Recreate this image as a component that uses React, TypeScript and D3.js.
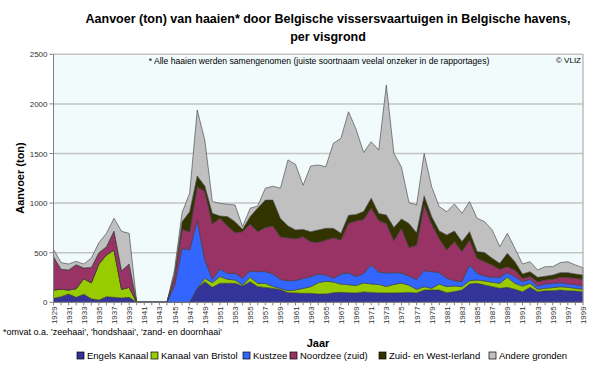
import * as d3 from 'd3';

const years = d3.range(1929, 2000);

const seriesNames = [
  'Engels Kanaal',
  'Kanaal van Bristol',
  'Kustzee',
  'Noordzee (zuid)',
  'Zuid- en West-Ierland',
  'Andere gronden',
];
const seriesColors = ['#333399', '#99cc00', '#3366ff', '#993366', '#333300', '#c0c0c0'];

// tonnes per year, 1929..1999 (1940-1944: no landings)
const engelsKanaal = [
  40, 57, 84, 50, 81, 35, 23, 57, 50, 43, 50, 0, 0, 0, 0, 0,
  0, 0, 0, 140, 208, 151, 192, 192, 192, 165, 208, 158, 150, 140, 130,
  97, 95, 90, 91, 84, 84, 97, 101, 97, 95, 105, 100, 95, 95, 95, 97, 100, 95, 124, 124,
  124, 97, 108, 124, 185, 192, 175, 158, 141, 151, 131, 107, 151, 107, 117, 117, 124, 117, 114, 107,
];
const kanaalVanBristol = [
  84, 74, 40, 87, 157, 161, 363, 420, 477, 88, 101, 0, 0, 0, 0, 0,
  0, 0, 0, 0, 34, 47, 67, 40, 33, 10, 44, 33, 40, 20, 10,
  20, 30, 50, 66, 114, 128, 108, 83, 80, 75, 90, 85, 85, 65, 85, 97, 72, 35, 33, 17,
  60, 61, 57, 34, 33, 33, 40, 44, 51, 101, 60, 57, 40, 24, 24, 31, 33, 34, 27, 24,
];
const kustzee = [
  0, 0, 0, 0, 0, 0, 0, 0, 0, 0, 0, 0, 0, 0, 0, 0,
  170, 544, 528, 683, 185, 34, 77, 60, 67, 67, 64, 118, 120, 125, 90,
  100, 95, 100, 101, 87, 63, 37, 101, 120, 90, 95, 190, 125, 135, 120, 101, 92, 100, 162, 168,
  115, 84, 53, 50, 158, 67, 50, 50, 60, 47, 67, 44, 41, 33, 44, 43, 41, 34, 37, 33,
];
const noordzeeZuid = [
  336, 202, 202, 242, 108, 155, 114, 83, 191, 187, 235, 0, 0, 0, 0, 0,
  90, 192, 184, 343, 689, 558, 511, 477, 410, 470, 474, 403, 445, 485, 430,
  433, 420, 420, 353, 320, 353, 409, 343, 500, 560, 545, 575, 520, 500, 320, 450, 290, 345, 662, 480,
  340, 286, 394, 303, 252, 152, 145, 124, 81, 60, 68, 33, 30, 44, 40, 41, 54, 67, 64, 68,
];
const zuidWestIerland = [
  0, 0, 0, 0, 0, 0, 0, 0, 0, 0, 0, 0, 0, 0, 0, 0,
  20, 77, 202, 107, 57, 107, 23, 95, 111, 24, 74, 238, 275, 260, 185,
  120, 90, 75, 101, 124, 118, 95, 67, 80, 65, 80, 100, 70, 85, 135, 95, 240, 125, 91, 74,
  80, 151, 107, 101, 84, 67, 91, 68, 60, 135, 83, 44, 47, 44, 37, 43, 47, 47, 43, 43,
];
const andereGronden = [
  74, 67, 60, 34, 40, 94, 101, 135, 129, 397, 309, 0, 0, 0, 0, 0,
  50, 91, 185, 666, 463, 118, 128, 124, 168, 27, 84, 21, 120, 140, 305,
  665, 660, 445, 662, 655, 621, 857, 958, 1044, 860, 595, 569, 640, 1310, 747, 522, 210, 280, 428, 300,
  245, 235, 272, 285, 303, 336, 312, 285, 168, 201, 135, 101, 100, 74, 97, 84, 101, 110, 91, 74,
];

const seriesValues = [engelsKanaal, kanaalVanBristol, kustzee, noordzeeZuid, zuidWestIerland, andereGronden];
const yTicks = [0, 500, 1000, 1500, 2000, 2500];

const W = 600;
const H = 368;
const left = 53.5;
const right = 583;
const top = 54.3;
const bottom = 302.3;
const font = 'Liberation Sans, Arial, sans-serif';

function App() {
  const x = d3.scaleLinear().domain([1929, 1999]).range([left, right]);
  const y = d3.scaleLinear().domain([0, 2500]).range([bottom, top]);

  const rows = years.map((yr, i) => {
    const r: Record<string, number> = { year: yr };
    seriesNames.forEach((n, k) => (r[n] = seriesValues[k][i]));
    return r;
  });
  const stacked = d3.stack<Record<string, number>>().keys(seriesNames)(rows);
  const area = d3
    .area<d3.SeriesPoint<Record<string, number>>>()
    .x((d) => x(d.data.year))
    .y0((d) => y(d[0]))
    .y1((d) => y(d[1]));

  const legendX = [77, 151, 243, 290, 379, 489];

  return (
    <svg width={W} height={H} style={{ position: 'absolute', left: 0, top: 0, background: '#fff' }} fontFamily={font}>
      <text x={328} y={23} textAnchor="middle" fontSize={12.5} fontWeight="bold">
        Aanvoer (ton) van haaien* door Belgische vissersvaartuigen in Belgische havens,
      </text>
      <text x={328} y={41} textAnchor="middle" fontSize={12.5} fontWeight="bold">
        per visgrond
      </text>

      <rect x={left} y={top} width={right - left} height={bottom - top} fill="#f1fbfb" />
      {yTicks.slice(1).map((t) => (
        <line key={t} x1={left} x2={right} y1={y(t)} y2={y(t)} stroke="#c4c4c4" strokeWidth={1.5} />
      ))}

      {stacked.map((s, k) => (
        <path key={s.key} d={area(s) ?? ''} fill={seriesColors[k]} stroke="#3a3a3a" strokeWidth={0.6} />
      ))}

      <line x1={right} x2={right} y1={top} y2={bottom} stroke="#a0a0a0" />
      <line x1={left} x2={left} y1={top} y2={bottom} stroke="#808080" />
      <line x1={left} x2={right} y1={bottom} y2={bottom} stroke="#808080" />

      {yTicks.map((t) => (
        <g key={t}>
          <line x1={left - 4} x2={left} y1={y(t)} y2={y(t)} stroke="#808080" />
          <text x={left - 6} y={y(t) + 3} textAnchor="end" fontSize={8} fill="#333">
            {t}
          </text>
        </g>
      ))}

      {years.map((yr) => (
        <line key={yr} x1={x(yr)} x2={x(yr)} y1={bottom} y2={bottom + 3} stroke="#808080" />
      ))}
      {years
        .filter((yr) => (yr - 1929) % 2 === 0)
        .map((yr) => (
          <text
            key={yr}
            transform={`translate(${x(yr) + 3},${bottom + 4}) rotate(-90)`}
            textAnchor="end"
            fontSize={8}
            fill="#333"
          >
            {yr}
          </text>
        ))}

      <text transform={`translate(24,178) rotate(-90)`} textAnchor="middle" fontSize={11} fontWeight="bold">
        Aanvoer (ton)
      </text>

      <text x={319} y={64} textAnchor="middle" fontSize={8.6}>
        * Alle haaien werden samengenomen (juiste soortnaam veelal onzeker in de rapportages)
      </text>
      <text x={581} y={63} textAnchor="end" fontSize={8}>
        © VLIZ
      </text>

      <text x={3} y={335} fontSize={9}>
        *omvat o.a. 'zeehaai', 'hondshaai', 'zand- en doornhaai'
      </text>
      <text x={318} y={347} textAnchor="middle" fontSize={11} fontWeight="bold">
        Jaar
      </text>

      {seriesNames.map((n, k) => (
        <g key={n}>
          <rect x={legendX[k]} y={352} width={7} height={7} fill={seriesColors[k]} stroke="#000" strokeWidth={0.7} />
          <text x={legendX[k] + 10} y={359} fontSize={9.5}>
            {n}
          </text>
        </g>
      ))}
    </svg>
  );
}

export default App;
